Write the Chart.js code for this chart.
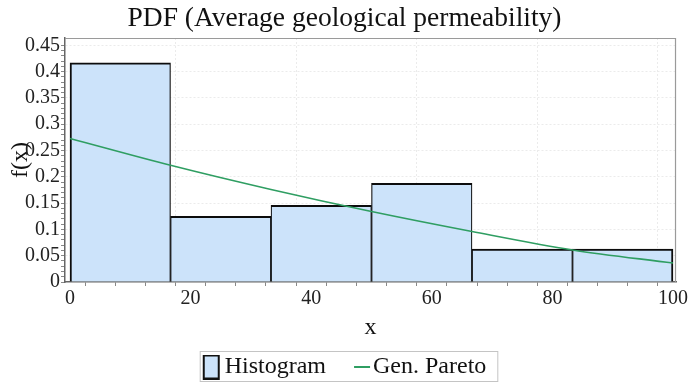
<!DOCTYPE html>
<html>
<head>
<meta charset="utf-8">
<script src="https://cdn.jsdelivr.net/npm/chart.js@4.4.1/dist/chart.umd.min.js"></script>
<style>
  html, body { margin: 0; padding: 0; background: #fff; }
  #wrap { width: 689px; height: 383px; }
</style>
</head>
<body>
<div id="wrap"><canvas id="pdfChart"></canvas></div>
<script>
// histogram bins: edges and relative frequency per bin
const binLeft = [0, 16.67, 33.33, 50, 66.67, 83.33];
const binRight = [16.67, 33.33, 50, 66.67, 83.33, 100];
const binFreq = [0.4167, 0.125, 0.1458, 0.1875, 0.0625, 0.0625];

// fitted generalized Pareto density, sampled at the bin edges
const paretoX = [0, 16.67, 33.33, 50, 66.67, 83.33, 100];
const paretoY = [0.273, 0.222, 0.176, 0.134, 0.096, 0.061, 0.036];

// axis ticks
const xTicks = [0, 20, 40, 60, 80, 100];
const xTickLabels = ['0', '20', '40', '60', '80', '100'];
const yTicks = [0, 0.05, 0.1, 0.15, 0.2, 0.25, 0.3, 0.35, 0.4, 0.45];
const yTickLabels = ['0', '0.05', '0.1', '0.15', '0.2', '0.25', '0.3', '0.35', '0.4', '0.45'];

const serif = 'Liberation Serif';
const barFill = '#cce3fa';
const lineColor = '#2f9e62';
const gridColor = '#ebebeb';

// major ticks with unlabeled minor ticks in between
function withMinor(major, labels, step) {
  const out = [];
  for (let i = 0; i < major.length - 1; i++) {
    const n = Math.round((major[i + 1] - major[i]) / step);
    for (let j = 0; j < n; j++) {
      out.push({ value: +(major[i] + j * step).toFixed(4), isMajor: j === 0, text: j === 0 ? labels[i] : '' });
    }
  }
  out.push({ value: major[major.length - 1], isMajor: true, text: labels[labels.length - 1] });
  return out;
}

function makeSwatch(w, h, paint) {
  const c = document.createElement('canvas');
  c.width = w;
  c.height = h;
  paint(c.getContext('2d'));
  return c;
}

// legend swatches, drawn in the right part of the canvas so they sit close to the text
const histSwatch = makeSwatch(26, 25, g => {
  g.fillStyle = barFill;
  g.fillRect(9, 1, 15, 23);
  g.strokeStyle = '#111';
  g.lineWidth = 2;
  g.strokeRect(9, 1, 15, 23);
});
const lineSwatch = makeSwatch(30, 2, g => {
  g.fillStyle = lineColor;
  g.fillRect(13, 0, 16, 2);
});

// top and right edges of the plot box
const plotFrame = {
  id: 'plotFrame',
  afterDatasetsDraw(chart) {
    const { ctx, chartArea: a } = chart;
    ctx.save();
    ctx.strokeStyle = '#9a9a9a';
    ctx.lineWidth = 1.2;
    ctx.beginPath();
    ctx.moveTo(a.left, a.top + 0.5);
    ctx.lineTo(a.right - 0.5, a.top + 0.5);
    ctx.lineTo(a.right - 0.5, a.bottom);
    ctx.stroke();
    ctx.restore();
  }
};

// thin box round the legend items
const legendFrame = {
  id: 'legendFrame',
  afterDraw(chart) {
    const boxes = chart.legend && chart.legend.legendHitBoxes;
    if (!boxes || !boxes.length) return;
    const first = boxes[0];
    const last = boxes[boxes.length - 1];
    const ctx = chart.ctx;
    ctx.save();
    ctx.strokeStyle = '#c4c4c4';
    ctx.lineWidth = 1;
    ctx.strokeRect(first.left - 2.5, first.top - 3.5, last.left + last.width + 14 - first.left, 30);
    ctx.restore();
  }
};

new Chart(document.getElementById('pdfChart'), {
  type: 'bar',
  data: {
    datasets: [
      {
        type: 'bar',
        label: 'Histogram',
        data: binLeft.map((l, i) => ({ x: (l + binRight[i]) / 2, y: binFreq[i] })),
        backgroundColor: barFill,
        borderColor: '#0c0c0c',
        borderWidth: c => ({
          top: 2,
          bottom: 0,
          left: c.dataIndex === 0 ? 2 : 1.2,
          right: c.dataIndex === binFreq.length - 1 ? 2 : 1.2
        }),
        // flex width spans from neighbour to neighbour, so bins touch
        barThickness: 'flex',
        barPercentage: 1,
        categoryPercentage: 1,
        order: 2
      },
      {
        type: 'line',
        label: 'Gen. Pareto',
        data: paretoX.map((x, i) => ({ x: x, y: paretoY[i] })),
        borderColor: lineColor,
        borderWidth: 1.6,
        pointRadius: 0,
        cubicInterpolationMode: 'monotone',
        fill: false,
        order: 1
      }
    ]
  },
  options: {
    responsive: true,
    maintainAspectRatio: false,
    animation: false,
    layout: { padding: { left: 0, right: 0, top: 0, bottom: -6 } },
    plugins: {
      title: {
        display: true,
        text: 'PDF (Average geological permeability)',
        color: '#111',
        font: { family: serif, size: 27.5, weight: 'normal' },
        padding: { top: 2, bottom: 3 }
      },
      legend: {
        position: 'bottom',
        labels: {
          usePointStyle: true,
          pointStyleWidth: 10,
          padding: 25,
          color: '#111',
          font: { family: serif, size: 24 },
          generateLabels: chart => chart.data.datasets.map((ds, i) => ({
            text: ds.label,
            pointStyle: i === 0 ? histSwatch : lineSwatch,
            fontColor: '#111',
            lineWidth: 0,
            hidden: false,
            datasetIndex: i
          }))
        }
      },
      tooltip: { enabled: false }
    },
    scales: {
      x: {
        type: 'linear',
        min: -0.83,
        max: 100.5,
        offset: false,
        afterBuildTicks: s => { s.ticks = withMinor(xTicks, xTickLabels, 5); },
        afterFit: s => { s.height = 48; },
        ticks: {
          autoSkip: false,
          maxRotation: 0,
          padding: 1,
          color: '#222',
          font: { family: serif, size: 20 },
          callback: (v, i, t) => t[i].text
        },
        grid: {
          color: c => (c.tick && c.tick.isMajor && c.tick.value !== 0 ? gridColor : 'rgba(0,0,0,0)'),
          tickColor: '#888',
          tickLength: 4
        },
        border: { color: '#666', width: 1.5, dash: [2, 2] },
        title: {
          display: true,
          text: 'x',
          color: '#111',
          font: { family: serif, size: 24 },
          padding: { top: 0, bottom: -12 }
        }
      },
      y: {
        min: 0,
        max: 0.464,
        afterBuildTicks: s => { s.ticks = withMinor(yTicks, yTickLabels, 0.01); },
        afterFit: s => { s.width = 65; },
        ticks: {
          autoSkip: false,
          padding: 1,
          color: '#222',
          font: { family: serif, size: 20 },
          callback: (v, i, t) => t[i].text
        },
        grid: {
          color: c => (c.tick && c.tick.isMajor && c.tick.value !== 0 ? gridColor : 'rgba(0,0,0,0)'),
          tickColor: '#888',
          tickLength: 4
        },
        border: { color: '#666', width: 1.5, dash: [2, 2] },
        title: {
          display: true,
          text: 'f(x)',
          color: '#111',
          font: { family: serif, size: 24 },
          padding: { top: 6, bottom: 0 }
        }
      }
    }
  },
  plugins: [plotFrame, legendFrame]
});
</script>
</body>
</html>
